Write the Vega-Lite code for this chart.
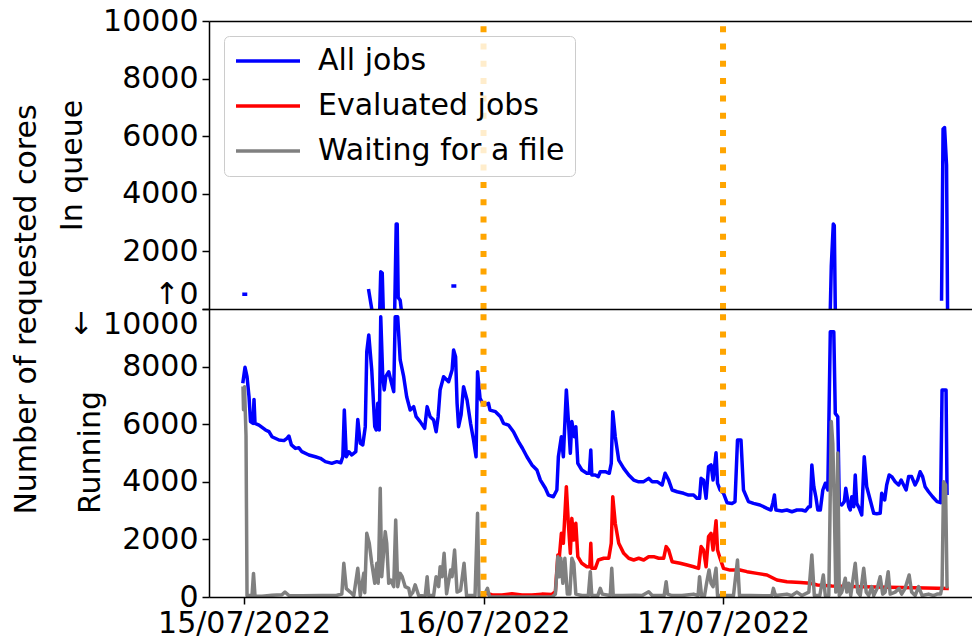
{
  "$schema": "https://vega.github.io/schema/vega-lite/v6.json",
  "padding": {"left": 10, "top": 6, "right": 0, "bottom": 0},
  "background": "white",
  "config": {
    "font": "DejaVu Sans",
    "view": {"stroke": null},
    "axis": {"labelFontSize": 30, "titleFontSize": 30, "labelColor": "black", "titleColor": "black", "titleFontWeight": "normal", "tickColor": "black", "domainColor": "black", "tickSize": 7, "tickWidth": 1.5, "domainWidth": 1.5, "grid": false, "labelFont": "DejaVu Sans", "titleFont": "DejaVu Sans"}
  },
  "datasets": {
    "days": [{"hours": 24}, {"hours": 48}],
    "queue": [
      {"hours": 0.0, "cores": 510, "series": "All jobs"},
      {"hours": 0.15, "cores": 510, "series": "All jobs"},
      {"hours": 0.5, "cores": null, "series": "All jobs"},
      {"hours": 12.5, "cores": 635, "series": "All jobs"},
      {"hours": 12.8, "cores": 0, "series": "All jobs"},
      {"hours": 13.0, "cores": null, "series": "All jobs"},
      {"hours": 13.6, "cores": 0, "series": "All jobs"},
      {"hours": 13.7, "cores": 1295, "series": "All jobs"},
      {"hours": 13.85, "cores": 1250, "series": "All jobs"},
      {"hours": 13.95, "cores": 0, "series": "All jobs"},
      {"hours": 14.5, "cores": null, "series": "All jobs"},
      {"hours": 15.1, "cores": 0, "series": "All jobs"},
      {"hours": 15.25, "cores": 2950, "series": "All jobs"},
      {"hours": 15.35, "cores": 2950, "series": "All jobs"},
      {"hours": 15.45, "cores": 400, "series": "All jobs"},
      {"hours": 15.65, "cores": 300, "series": "All jobs"},
      {"hours": 15.75, "cores": 0, "series": "All jobs"},
      {"hours": 16.5, "cores": null, "series": "All jobs"},
      {"hours": 20.95, "cores": 800, "series": "All jobs"},
      {"hours": 21.1, "cores": 800, "series": "All jobs"},
      {"hours": 21.5, "cores": null, "series": "All jobs"},
      {"hours": 58.75, "cores": 0, "series": "All jobs"},
      {"hours": 58.85, "cores": 1500, "series": "All jobs"},
      {"hours": 59.05, "cores": 2950, "series": "All jobs"},
      {"hours": 59.15, "cores": 2900, "series": "All jobs"},
      {"hours": 59.25, "cores": 0, "series": "All jobs"},
      {"hours": 60.0, "cores": null, "series": "All jobs"},
      {"hours": 69.9, "cores": 350, "series": "All jobs"},
      {"hours": 70.05, "cores": 6250, "series": "All jobs"},
      {"hours": 70.2, "cores": 6300, "series": "All jobs"},
      {"hours": 70.4, "cores": 5000, "series": "All jobs"},
      {"hours": 70.5, "cores": 0, "series": "All jobs"}
    ],
    "running": [
      {"hours": -0.1, "cores": 7480, "series": "All jobs"},
      {"hours": 0.1, "cores": 7975, "series": "All jobs"},
      {"hours": 0.3, "cores": 7650, "series": "All jobs"},
      {"hours": 0.5, "cores": 6955, "series": "All jobs"},
      {"hours": 0.65, "cores": 6090, "series": "All jobs"},
      {"hours": 0.9, "cores": 6030, "series": "All jobs"},
      {"hours": 1.0, "cores": 6860, "series": "All jobs"},
      {"hours": 1.1, "cores": 6030, "series": "All jobs"},
      {"hours": 1.5, "cores": 5970, "series": "All jobs"},
      {"hours": 2.15, "cores": 5800, "series": "All jobs"},
      {"hours": 2.5, "cores": 5740, "series": "All jobs"},
      {"hours": 2.8, "cores": 5565, "series": "All jobs"},
      {"hours": 3.5, "cores": 5450, "series": "All jobs"},
      {"hours": 4.0, "cores": 5430, "series": "All jobs"},
      {"hours": 4.3, "cores": 5510, "series": "All jobs"},
      {"hours": 4.5, "cores": 5590, "series": "All jobs"},
      {"hours": 4.75, "cores": 5280, "series": "All jobs"},
      {"hours": 5.15, "cores": 5160, "series": "All jobs"},
      {"hours": 5.5, "cores": 5180, "series": "All jobs"},
      {"hours": 5.8, "cores": 5045, "series": "All jobs"},
      {"hours": 6.5, "cores": 4930, "series": "All jobs"},
      {"hours": 7.15, "cores": 4870, "series": "All jobs"},
      {"hours": 7.65, "cores": 4815, "series": "All jobs"},
      {"hours": 8.15, "cores": 4700, "series": "All jobs"},
      {"hours": 8.8, "cores": 4640, "series": "All jobs"},
      {"hours": 9.3, "cores": 4700, "series": "All jobs"},
      {"hours": 9.7, "cores": 4660, "series": "All jobs"},
      {"hours": 9.9, "cores": 4870, "series": "All jobs"},
      {"hours": 10.05, "cores": 6490, "series": "All jobs"},
      {"hours": 10.25, "cores": 4870, "series": "All jobs"},
      {"hours": 10.5, "cores": 5045, "series": "All jobs"},
      {"hours": 10.8, "cores": 4930, "series": "All jobs"},
      {"hours": 11.2, "cores": 5045, "series": "All jobs"},
      {"hours": 11.4, "cores": 6165, "series": "All jobs"},
      {"hours": 11.65, "cores": 5335, "series": "All jobs"},
      {"hours": 11.9, "cores": 5280, "series": "All jobs"},
      {"hours": 12.15, "cores": 5915, "series": "All jobs"},
      {"hours": 12.3, "cores": 8520, "series": "All jobs"},
      {"hours": 12.5, "cores": 9100, "series": "All jobs"},
      {"hours": 12.8, "cores": 7880, "series": "All jobs"},
      {"hours": 13.1, "cores": 5915, "series": "All jobs"},
      {"hours": 13.25, "cores": 5800, "series": "All jobs"},
      {"hours": 13.4, "cores": 6725, "series": "All jobs"},
      {"hours": 13.55, "cores": 5800, "series": "All jobs"},
      {"hours": 13.7, "cores": 9730, "series": "All jobs"},
      {"hours": 13.9, "cores": 7650, "series": "All jobs"},
      {"hours": 14.05, "cores": 7190, "series": "All jobs"},
      {"hours": 14.2, "cores": 7650, "series": "All jobs"},
      {"hours": 14.5, "cores": 7820, "series": "All jobs"},
      {"hours": 14.7, "cores": 7535, "series": "All jobs"},
      {"hours": 15.0, "cores": 7130, "series": "All jobs"},
      {"hours": 15.15, "cores": 9730, "series": "All jobs"},
      {"hours": 15.4, "cores": 9730, "series": "All jobs"},
      {"hours": 15.65, "cores": 8230, "series": "All jobs"},
      {"hours": 16.0, "cores": 7650, "series": "All jobs"},
      {"hours": 16.3, "cores": 6955, "series": "All jobs"},
      {"hours": 16.65, "cores": 6490, "series": "All jobs"},
      {"hours": 17.0, "cores": 6610, "series": "All jobs"},
      {"hours": 17.25, "cores": 6260, "series": "All jobs"},
      {"hours": 17.65, "cores": 6090, "series": "All jobs"},
      {"hours": 18.1, "cores": 5855, "series": "All jobs"},
      {"hours": 18.35, "cores": 6610, "series": "All jobs"},
      {"hours": 18.65, "cores": 6260, "series": "All jobs"},
      {"hours": 19.0, "cores": 6145, "series": "All jobs"},
      {"hours": 19.25, "cores": 5740, "series": "All jobs"},
      {"hours": 19.45, "cores": 6260, "series": "All jobs"},
      {"hours": 19.65, "cores": 7190, "series": "All jobs"},
      {"hours": 20.0, "cores": 7650, "series": "All jobs"},
      {"hours": 20.5, "cores": 7475, "series": "All jobs"},
      {"hours": 20.85, "cores": 7880, "series": "All jobs"},
      {"hours": 21.0, "cores": 8575, "series": "All jobs"},
      {"hours": 21.2, "cores": 8345, "series": "All jobs"},
      {"hours": 21.35, "cores": 6725, "series": "All jobs"},
      {"hours": 21.5, "cores": 5915, "series": "All jobs"},
      {"hours": 21.75, "cores": 6320, "series": "All jobs"},
      {"hours": 22.0, "cores": 7300, "series": "All jobs"},
      {"hours": 22.35, "cores": 6840, "series": "All jobs"},
      {"hours": 22.7, "cores": 6030, "series": "All jobs"},
      {"hours": 23.0, "cores": 5450, "series": "All jobs"},
      {"hours": 23.25, "cores": 4870, "series": "All jobs"},
      {"hours": 23.4, "cores": 7820, "series": "All jobs"},
      {"hours": 23.65, "cores": 6900, "series": "All jobs"},
      {"hours": 24.0, "cores": 6665, "series": "All jobs"},
      {"hours": 24.5, "cores": 6725, "series": "All jobs"},
      {"hours": 24.65, "cores": 6490, "series": "All jobs"},
      {"hours": 25.2, "cores": 6435, "series": "All jobs"},
      {"hours": 25.7, "cores": 6260, "series": "All jobs"},
      {"hours": 26.0, "cores": 6030, "series": "All jobs"},
      {"hours": 26.5, "cores": 5970, "series": "All jobs"},
      {"hours": 27.0, "cores": 5740, "series": "All jobs"},
      {"hours": 27.5, "cores": 5395, "series": "All jobs"},
      {"hours": 27.9, "cores": 5165, "series": "All jobs"},
      {"hours": 28.35, "cores": 4870, "series": "All jobs"},
      {"hours": 28.85, "cores": 4585, "series": "All jobs"},
      {"hours": 29.35, "cores": 4410, "series": "All jobs"},
      {"hours": 29.7, "cores": 4060, "series": "All jobs"},
      {"hours": 30.2, "cores": 3775, "series": "All jobs"},
      {"hours": 30.5, "cores": 3540, "series": "All jobs"},
      {"hours": 31.0, "cores": 3480, "series": "All jobs"},
      {"hours": 31.35, "cores": 3715, "series": "All jobs"},
      {"hours": 31.5, "cores": 4870, "series": "All jobs"},
      {"hours": 31.8, "cores": 5565, "series": "All jobs"},
      {"hours": 32.0, "cores": 4870, "series": "All jobs"},
      {"hours": 32.3, "cores": 7190, "series": "All jobs"},
      {"hours": 32.5, "cores": 6145, "series": "All jobs"},
      {"hours": 32.7, "cores": 4990, "series": "All jobs"},
      {"hours": 32.85, "cores": 6090, "series": "All jobs"},
      {"hours": 33.1, "cores": 5565, "series": "All jobs"},
      {"hours": 33.25, "cores": 5915, "series": "All jobs"},
      {"hours": 33.45, "cores": 4640, "series": "All jobs"},
      {"hours": 33.85, "cores": 4410, "series": "All jobs"},
      {"hours": 34.35, "cores": 4295, "series": "All jobs"},
      {"hours": 34.6, "cores": 4295, "series": "All jobs"},
      {"hours": 34.75, "cores": 5105, "series": "All jobs"},
      {"hours": 34.85, "cores": 4235, "series": "All jobs"},
      {"hours": 35.2, "cores": 4235, "series": "All jobs"},
      {"hours": 35.5, "cores": 4180, "series": "All jobs"},
      {"hours": 35.7, "cores": 4350, "series": "All jobs"},
      {"hours": 36.2, "cores": 4350, "series": "All jobs"},
      {"hours": 36.6, "cores": 4295, "series": "All jobs"},
      {"hours": 36.8, "cores": 4640, "series": "All jobs"},
      {"hours": 36.95, "cores": 6435, "series": "All jobs"},
      {"hours": 37.2, "cores": 5565, "series": "All jobs"},
      {"hours": 37.55, "cores": 4755, "series": "All jobs"},
      {"hours": 38.05, "cores": 4465, "series": "All jobs"},
      {"hours": 38.55, "cores": 4235, "series": "All jobs"},
      {"hours": 39.05, "cores": 4060, "series": "All jobs"},
      {"hours": 39.55, "cores": 4000, "series": "All jobs"},
      {"hours": 40.05, "cores": 4005, "series": "All jobs"},
      {"hours": 40.55, "cores": 4120, "series": "All jobs"},
      {"hours": 40.9, "cores": 4005, "series": "All jobs"},
      {"hours": 41.4, "cores": 4005, "series": "All jobs"},
      {"hours": 41.9, "cores": 3890, "series": "All jobs"},
      {"hours": 42.2, "cores": 4295, "series": "All jobs"},
      {"hours": 42.55, "cores": 4060, "series": "All jobs"},
      {"hours": 42.9, "cores": 3715, "series": "All jobs"},
      {"hours": 43.4, "cores": 3655, "series": "All jobs"},
      {"hours": 44.05, "cores": 3600, "series": "All jobs"},
      {"hours": 44.55, "cores": 3540, "series": "All jobs"},
      {"hours": 45.05, "cores": 3540, "series": "All jobs"},
      {"hours": 45.4, "cores": 3425, "series": "All jobs"},
      {"hours": 45.65, "cores": 3425, "series": "All jobs"},
      {"hours": 45.8, "cores": 4120, "series": "All jobs"},
      {"hours": 46.05, "cores": 4060, "series": "All jobs"},
      {"hours": 46.3, "cores": 3425, "series": "All jobs"},
      {"hours": 46.55, "cores": 4525, "series": "All jobs"},
      {"hours": 46.8, "cores": 4585, "series": "All jobs"},
      {"hours": 47.0, "cores": 4060, "series": "All jobs"},
      {"hours": 47.3, "cores": 5010, "series": "All jobs"},
      {"hours": 47.45, "cores": 3950, "series": "All jobs"},
      {"hours": 47.7, "cores": 3715, "series": "All jobs"},
      {"hours": 48.05, "cores": 3600, "series": "All jobs"},
      {"hours": 48.4, "cores": 3275, "series": "All jobs"},
      {"hours": 48.9, "cores": 3250, "series": "All jobs"},
      {"hours": 49.2, "cores": 3310, "series": "All jobs"},
      {"hours": 49.45, "cores": 5450, "series": "All jobs"},
      {"hours": 49.8, "cores": 5450, "series": "All jobs"},
      {"hours": 50.05, "cores": 3715, "series": "All jobs"},
      {"hours": 50.55, "cores": 3310, "series": "All jobs"},
      {"hours": 51.05, "cores": 3250, "series": "All jobs"},
      {"hours": 51.7, "cores": 3195, "series": "All jobs"},
      {"hours": 52.4, "cores": 3080, "series": "All jobs"},
      {"hours": 52.8, "cores": 3020, "series": "All jobs"},
      {"hours": 53.0, "cores": 3275, "series": "All jobs"},
      {"hours": 53.15, "cores": 3540, "series": "All jobs"},
      {"hours": 53.3, "cores": 3020, "series": "All jobs"},
      {"hours": 53.9, "cores": 2985, "series": "All jobs"},
      {"hours": 54.4, "cores": 3020, "series": "All jobs"},
      {"hours": 54.9, "cores": 2960, "series": "All jobs"},
      {"hours": 55.4, "cores": 3020, "series": "All jobs"},
      {"hours": 55.9, "cores": 3020, "series": "All jobs"},
      {"hours": 56.25, "cores": 2985, "series": "All jobs"},
      {"hours": 56.6, "cores": 3135, "series": "All jobs"},
      {"hours": 56.75, "cores": 3135, "series": "All jobs"},
      {"hours": 56.9, "cores": 4585, "series": "All jobs"},
      {"hours": 57.1, "cores": 3830, "series": "All jobs"},
      {"hours": 57.3, "cores": 3480, "series": "All jobs"},
      {"hours": 57.5, "cores": 3020, "series": "All jobs"},
      {"hours": 57.75, "cores": 3020, "series": "All jobs"},
      {"hours": 58.0, "cores": 3715, "series": "All jobs"},
      {"hours": 58.25, "cores": 3950, "series": "All jobs"},
      {"hours": 58.5, "cores": 3715, "series": "All jobs"},
      {"hours": 58.75, "cores": 9210, "series": "All jobs"},
      {"hours": 59.1, "cores": 9210, "series": "All jobs"},
      {"hours": 59.25, "cores": 6375, "series": "All jobs"},
      {"hours": 59.5, "cores": 6260, "series": "All jobs"},
      {"hours": 59.65, "cores": 3250, "series": "All jobs"},
      {"hours": 59.9, "cores": 3195, "series": "All jobs"},
      {"hours": 60.15, "cores": 3310, "series": "All jobs"},
      {"hours": 60.3, "cores": 3775, "series": "All jobs"},
      {"hours": 60.6, "cores": 3135, "series": "All jobs"},
      {"hours": 60.75, "cores": 3020, "series": "All jobs"},
      {"hours": 60.9, "cores": 3480, "series": "All jobs"},
      {"hours": 61.1, "cores": 3135, "series": "All jobs"},
      {"hours": 61.25, "cores": 4235, "series": "All jobs"},
      {"hours": 61.4, "cores": 3250, "series": "All jobs"},
      {"hours": 61.65, "cores": 3080, "series": "All jobs"},
      {"hours": 61.9, "cores": 2850, "series": "All jobs"},
      {"hours": 62.15, "cores": 4870, "series": "All jobs"},
      {"hours": 62.4, "cores": 3830, "series": "All jobs"},
      {"hours": 62.75, "cores": 3370, "series": "All jobs"},
      {"hours": 63.1, "cores": 2905, "series": "All jobs"},
      {"hours": 63.4, "cores": 2890, "series": "All jobs"},
      {"hours": 63.75, "cores": 2905, "series": "All jobs"},
      {"hours": 63.9, "cores": 3600, "series": "All jobs"},
      {"hours": 64.2, "cores": 3370, "series": "All jobs"},
      {"hours": 64.4, "cores": 3890, "series": "All jobs"},
      {"hours": 64.65, "cores": 4235, "series": "All jobs"},
      {"hours": 64.9, "cores": 4180, "series": "All jobs"},
      {"hours": 65.25, "cores": 4005, "series": "All jobs"},
      {"hours": 65.6, "cores": 3890, "series": "All jobs"},
      {"hours": 65.85, "cores": 4060, "series": "All jobs"},
      {"hours": 66.1, "cores": 3890, "series": "All jobs"},
      {"hours": 66.35, "cores": 3715, "series": "All jobs"},
      {"hours": 66.6, "cores": 4180, "series": "All jobs"},
      {"hours": 66.9, "cores": 4180, "series": "All jobs"},
      {"hours": 67.25, "cores": 3890, "series": "All jobs"},
      {"hours": 67.5, "cores": 4060, "series": "All jobs"},
      {"hours": 67.75, "cores": 4350, "series": "All jobs"},
      {"hours": 68.0, "cores": 4180, "series": "All jobs"},
      {"hours": 68.25, "cores": 3830, "series": "All jobs"},
      {"hours": 68.6, "cores": 3655, "series": "All jobs"},
      {"hours": 69.0, "cores": 3480, "series": "All jobs"},
      {"hours": 69.45, "cores": 3310, "series": "All jobs"},
      {"hours": 69.8, "cores": 3275, "series": "All jobs"},
      {"hours": 69.95, "cores": 7190, "series": "All jobs"},
      {"hours": 70.35, "cores": 7190, "series": "All jobs"},
      {"hours": 70.45, "cores": 3600, "series": "All jobs"},
      {"hours": 24.15, "cores": 130, "series": "Evaluated jobs"},
      {"hours": 24.85, "cores": 80, "series": "Evaluated jobs"},
      {"hours": 25.85, "cores": 70, "series": "Evaluated jobs"},
      {"hours": 26.85, "cores": 110, "series": "Evaluated jobs"},
      {"hours": 27.85, "cores": 70, "series": "Evaluated jobs"},
      {"hours": 28.85, "cores": 70, "series": "Evaluated jobs"},
      {"hours": 29.85, "cores": 100, "series": "Evaluated jobs"},
      {"hours": 30.85, "cores": 90, "series": "Evaluated jobs"},
      {"hours": 31.2, "cores": 185, "series": "Evaluated jobs"},
      {"hours": 31.45, "cores": 1460, "series": "Evaluated jobs"},
      {"hours": 31.6, "cores": 1400, "series": "Evaluated jobs"},
      {"hours": 31.8, "cores": 2210, "series": "Evaluated jobs"},
      {"hours": 32.0, "cores": 1865, "series": "Evaluated jobs"},
      {"hours": 32.3, "cores": 3830, "series": "Evaluated jobs"},
      {"hours": 32.5, "cores": 2560, "series": "Evaluated jobs"},
      {"hours": 32.7, "cores": 1515, "series": "Evaluated jobs"},
      {"hours": 32.85, "cores": 2730, "series": "Evaluated jobs"},
      {"hours": 33.05, "cores": 1980, "series": "Evaluated jobs"},
      {"hours": 33.25, "cores": 2560, "series": "Evaluated jobs"},
      {"hours": 33.45, "cores": 1400, "series": "Evaluated jobs"},
      {"hours": 33.85, "cores": 1170, "series": "Evaluated jobs"},
      {"hours": 34.35, "cores": 1050, "series": "Evaluated jobs"},
      {"hours": 34.65, "cores": 1050, "series": "Evaluated jobs"},
      {"hours": 34.75, "cores": 1865, "series": "Evaluated jobs"},
      {"hours": 34.85, "cores": 995, "series": "Evaluated jobs"},
      {"hours": 35.2, "cores": 995, "series": "Evaluated jobs"},
      {"hours": 35.5, "cores": 1285, "series": "Evaluated jobs"},
      {"hours": 36.05, "cores": 1345, "series": "Evaluated jobs"},
      {"hours": 36.55, "cores": 1345, "series": "Evaluated jobs"},
      {"hours": 36.8, "cores": 1865, "series": "Evaluated jobs"},
      {"hours": 36.95, "cores": 3480, "series": "Evaluated jobs"},
      {"hours": 37.2, "cores": 2560, "series": "Evaluated jobs"},
      {"hours": 37.55, "cores": 1865, "series": "Evaluated jobs"},
      {"hours": 38.05, "cores": 1515, "series": "Evaluated jobs"},
      {"hours": 38.55, "cores": 1345, "series": "Evaluated jobs"},
      {"hours": 39.05, "cores": 1285, "series": "Evaluated jobs"},
      {"hours": 39.55, "cores": 1345, "series": "Evaluated jobs"},
      {"hours": 40.05, "cores": 1285, "series": "Evaluated jobs"},
      {"hours": 40.55, "cores": 1400, "series": "Evaluated jobs"},
      {"hours": 41.05, "cores": 1400, "series": "Evaluated jobs"},
      {"hours": 41.55, "cores": 1345, "series": "Evaluated jobs"},
      {"hours": 42.05, "cores": 1345, "series": "Evaluated jobs"},
      {"hours": 42.3, "cores": 1750, "series": "Evaluated jobs"},
      {"hours": 42.55, "cores": 1630, "series": "Evaluated jobs"},
      {"hours": 42.9, "cores": 1225, "series": "Evaluated jobs"},
      {"hours": 43.7, "cores": 1170, "series": "Evaluated jobs"},
      {"hours": 44.4, "cores": 1110, "series": "Evaluated jobs"},
      {"hours": 45.05, "cores": 1050, "series": "Evaluated jobs"},
      {"hours": 45.55, "cores": 995, "series": "Evaluated jobs"},
      {"hours": 45.8, "cores": 1750, "series": "Evaluated jobs"},
      {"hours": 46.05, "cores": 1630, "series": "Evaluated jobs"},
      {"hours": 46.3, "cores": 1050, "series": "Evaluated jobs"},
      {"hours": 46.55, "cores": 2095, "series": "Evaluated jobs"},
      {"hours": 46.8, "cores": 2210, "series": "Evaluated jobs"},
      {"hours": 47.0, "cores": 1630, "series": "Evaluated jobs"},
      {"hours": 47.3, "cores": 2650, "series": "Evaluated jobs"},
      {"hours": 47.45, "cores": 1630, "series": "Evaluated jobs"},
      {"hours": 47.7, "cores": 1345, "series": "Evaluated jobs"},
      {"hours": 48.05, "cores": 995, "series": "Evaluated jobs"},
      {"hours": 48.7, "cores": 935, "series": "Evaluated jobs"},
      {"hours": 49.7, "cores": 935, "series": "Evaluated jobs"},
      {"hours": 50.4, "cores": 880, "series": "Evaluated jobs"},
      {"hours": 51.4, "cores": 820, "series": "Evaluated jobs"},
      {"hours": 52.4, "cores": 765, "series": "Evaluated jobs"},
      {"hours": 53.05, "cores": 650, "series": "Evaluated jobs"},
      {"hours": 53.4, "cores": 590, "series": "Evaluated jobs"},
      {"hours": 54.4, "cores": 530, "series": "Evaluated jobs"},
      {"hours": 55.75, "cores": 500, "series": "Evaluated jobs"},
      {"hours": 56.75, "cores": 475, "series": "Evaluated jobs"},
      {"hours": 57.45, "cores": 415, "series": "Evaluated jobs"},
      {"hours": 58.9, "cores": 380, "series": "Evaluated jobs"},
      {"hours": 61.9, "cores": 360, "series": "Evaluated jobs"},
      {"hours": 65.9, "cores": 330, "series": "Evaluated jobs"},
      {"hours": 70.45, "cores": 300, "series": "Evaluated jobs"},
      {"hours": -0.1, "cores": 7250, "series": "Waiting for a file"},
      {"hours": -0.05, "cores": 6500, "series": "Waiting for a file"},
      {"hours": 0.05, "cores": 7300, "series": "Waiting for a file"},
      {"hours": 0.2, "cores": 5600, "series": "Waiting for a file"},
      {"hours": 0.3, "cores": 50, "series": "Waiting for a file"},
      {"hours": 0.8, "cores": 50, "series": "Waiting for a file"},
      {"hours": 0.95, "cores": 820, "series": "Waiting for a file"},
      {"hours": 1.1, "cores": 30, "series": "Waiting for a file"},
      {"hours": 1.8, "cores": 30, "series": "Waiting for a file"},
      {"hours": 2.8, "cores": 60, "series": "Waiting for a file"},
      {"hours": 3.8, "cores": 80, "series": "Waiting for a file"},
      {"hours": 4.1, "cores": 175, "series": "Waiting for a file"},
      {"hours": 4.5, "cores": 50, "series": "Waiting for a file"},
      {"hours": 5.8, "cores": 40, "series": "Waiting for a file"},
      {"hours": 7.8, "cores": 50, "series": "Waiting for a file"},
      {"hours": 9.3, "cores": 60, "series": "Waiting for a file"},
      {"hours": 9.8, "cores": 100, "series": "Waiting for a file"},
      {"hours": 10.0, "cores": 1170, "series": "Waiting for a file"},
      {"hours": 10.25, "cores": 290, "series": "Waiting for a file"},
      {"hours": 10.65, "cores": 170, "series": "Waiting for a file"},
      {"hours": 11.0, "cores": 50, "series": "Waiting for a file"},
      {"hours": 11.4, "cores": 995, "series": "Waiting for a file"},
      {"hours": 11.65, "cores": 50, "series": "Waiting for a file"},
      {"hours": 12.0, "cores": 820, "series": "Waiting for a file"},
      {"hours": 12.1, "cores": 150, "series": "Waiting for a file"},
      {"hours": 12.3, "cores": 2210, "series": "Waiting for a file"},
      {"hours": 12.55, "cores": 1865, "series": "Waiting for a file"},
      {"hours": 12.8, "cores": 1170, "series": "Waiting for a file"},
      {"hours": 13.1, "cores": 475, "series": "Waiting for a file"},
      {"hours": 13.3, "cores": 1170, "series": "Waiting for a file"},
      {"hours": 13.45, "cores": 480, "series": "Waiting for a file"},
      {"hours": 13.65, "cores": 3775, "series": "Waiting for a file"},
      {"hours": 13.8, "cores": 705, "series": "Waiting for a file"},
      {"hours": 14.15, "cores": 2270, "series": "Waiting for a file"},
      {"hours": 14.3, "cores": 1865, "series": "Waiting for a file"},
      {"hours": 14.5, "cores": 475, "series": "Waiting for a file"},
      {"hours": 14.7, "cores": 590, "series": "Waiting for a file"},
      {"hours": 15.0, "cores": 360, "series": "Waiting for a file"},
      {"hours": 15.2, "cores": 2675, "series": "Waiting for a file"},
      {"hours": 15.4, "cores": 360, "series": "Waiting for a file"},
      {"hours": 15.65, "cores": 820, "series": "Waiting for a file"},
      {"hours": 15.85, "cores": 705, "series": "Waiting for a file"},
      {"hours": 16.15, "cores": 360, "series": "Waiting for a file"},
      {"hours": 16.5, "cores": 300, "series": "Waiting for a file"},
      {"hours": 16.65, "cores": 50, "series": "Waiting for a file"},
      {"hours": 16.9, "cores": 150, "series": "Waiting for a file"},
      {"hours": 17.15, "cores": 420, "series": "Waiting for a file"},
      {"hours": 17.5, "cores": 50, "series": "Waiting for a file"},
      {"hours": 17.85, "cores": 40, "series": "Waiting for a file"},
      {"hours": 18.15, "cores": 30, "series": "Waiting for a file"},
      {"hours": 18.35, "cores": 705, "series": "Waiting for a file"},
      {"hours": 18.5, "cores": 50, "series": "Waiting for a file"},
      {"hours": 19.0, "cores": 50, "series": "Waiting for a file"},
      {"hours": 19.25, "cores": 705, "series": "Waiting for a file"},
      {"hours": 19.5, "cores": 360, "series": "Waiting for a file"},
      {"hours": 19.65, "cores": 1050, "series": "Waiting for a file"},
      {"hours": 19.85, "cores": 705, "series": "Waiting for a file"},
      {"hours": 20.05, "cores": 1515, "series": "Waiting for a file"},
      {"hours": 20.3, "cores": 110, "series": "Waiting for a file"},
      {"hours": 20.7, "cores": 935, "series": "Waiting for a file"},
      {"hours": 20.85, "cores": 705, "series": "Waiting for a file"},
      {"hours": 21.1, "cores": 1630, "series": "Waiting for a file"},
      {"hours": 21.35, "cores": 170, "series": "Waiting for a file"},
      {"hours": 21.7, "cores": 230, "series": "Waiting for a file"},
      {"hours": 22.05, "cores": 1170, "series": "Waiting for a file"},
      {"hours": 22.3, "cores": 50, "series": "Waiting for a file"},
      {"hours": 22.85, "cores": 50, "series": "Waiting for a file"},
      {"hours": 23.15, "cores": 50, "series": "Waiting for a file"},
      {"hours": 23.4, "cores": 2905, "series": "Waiting for a file"},
      {"hours": 23.55, "cores": 50, "series": "Waiting for a file"},
      {"hours": 24.05, "cores": 50, "series": "Waiting for a file"},
      {"hours": 24.4, "cores": 300, "series": "Waiting for a file"},
      {"hours": 24.6, "cores": 0, "series": "Waiting for a file"},
      {"hours": 27.5, "cores": 0, "series": "Waiting for a file"},
      {"hours": 30.85, "cores": 0, "series": "Waiting for a file"},
      {"hours": 31.2, "cores": 100, "series": "Waiting for a file"},
      {"hours": 31.45, "cores": 1400, "series": "Waiting for a file"},
      {"hours": 31.6, "cores": 705, "series": "Waiting for a file"},
      {"hours": 31.75, "cores": 1345, "series": "Waiting for a file"},
      {"hours": 31.95, "cores": 475, "series": "Waiting for a file"},
      {"hours": 32.15, "cores": 1345, "series": "Waiting for a file"},
      {"hours": 32.4, "cores": 100, "series": "Waiting for a file"},
      {"hours": 32.65, "cores": 100, "series": "Waiting for a file"},
      {"hours": 32.85, "cores": 1345, "series": "Waiting for a file"},
      {"hours": 33.05, "cores": 1170, "series": "Waiting for a file"},
      {"hours": 33.25, "cores": 100, "series": "Waiting for a file"},
      {"hours": 33.85, "cores": 50, "series": "Waiting for a file"},
      {"hours": 34.5, "cores": 50, "series": "Waiting for a file"},
      {"hours": 34.7, "cores": 880, "series": "Waiting for a file"},
      {"hours": 34.85, "cores": 50, "series": "Waiting for a file"},
      {"hours": 35.45, "cores": 50, "series": "Waiting for a file"},
      {"hours": 35.7, "cores": 300, "series": "Waiting for a file"},
      {"hours": 35.9, "cores": 100, "series": "Waiting for a file"},
      {"hours": 36.7, "cores": 50, "series": "Waiting for a file"},
      {"hours": 36.85, "cores": 995, "series": "Waiting for a file"},
      {"hours": 37.0, "cores": 50, "series": "Waiting for a file"},
      {"hours": 37.9, "cores": 50, "series": "Waiting for a file"},
      {"hours": 39.2, "cores": 60, "series": "Waiting for a file"},
      {"hours": 39.9, "cores": 50, "series": "Waiting for a file"},
      {"hours": 40.55, "cores": 180, "series": "Waiting for a file"},
      {"hours": 40.9, "cores": 50, "series": "Waiting for a file"},
      {"hours": 41.55, "cores": 50, "series": "Waiting for a file"},
      {"hours": 42.1, "cores": 50, "series": "Waiting for a file"},
      {"hours": 42.3, "cores": 530, "series": "Waiting for a file"},
      {"hours": 42.45, "cores": 100, "series": "Waiting for a file"},
      {"hours": 42.9, "cores": 50, "series": "Waiting for a file"},
      {"hours": 43.9, "cores": 50, "series": "Waiting for a file"},
      {"hours": 45.05, "cores": 100, "series": "Waiting for a file"},
      {"hours": 45.5, "cores": 50, "series": "Waiting for a file"},
      {"hours": 45.65, "cores": 705, "series": "Waiting for a file"},
      {"hours": 45.85, "cores": 50, "series": "Waiting for a file"},
      {"hours": 46.15, "cores": 50, "series": "Waiting for a file"},
      {"hours": 46.35, "cores": 475, "series": "Waiting for a file"},
      {"hours": 46.6, "cores": 935, "series": "Waiting for a file"},
      {"hours": 46.8, "cores": 475, "series": "Waiting for a file"},
      {"hours": 47.0, "cores": 360, "series": "Waiting for a file"},
      {"hours": 47.3, "cores": 995, "series": "Waiting for a file"},
      {"hours": 47.45, "cores": 50, "series": "Waiting for a file"},
      {"hours": 48.05, "cores": 50, "series": "Waiting for a file"},
      {"hours": 49.05, "cores": 50, "series": "Waiting for a file"},
      {"hours": 49.45, "cores": 1285, "series": "Waiting for a file"},
      {"hours": 49.65, "cores": 50, "series": "Waiting for a file"},
      {"hours": 50.75, "cores": 50, "series": "Waiting for a file"},
      {"hours": 52.05, "cores": 40, "series": "Waiting for a file"},
      {"hours": 52.9, "cores": 50, "series": "Waiting for a file"},
      {"hours": 53.05, "cores": 300, "series": "Waiting for a file"},
      {"hours": 53.25, "cores": 50, "series": "Waiting for a file"},
      {"hours": 54.4, "cores": 100, "series": "Waiting for a file"},
      {"hours": 54.9, "cores": 50, "series": "Waiting for a file"},
      {"hours": 55.4, "cores": 170, "series": "Waiting for a file"},
      {"hours": 55.9, "cores": 50, "series": "Waiting for a file"},
      {"hours": 56.6, "cores": 170, "series": "Waiting for a file"},
      {"hours": 56.9, "cores": 1460, "series": "Waiting for a file"},
      {"hours": 57.15, "cores": 50, "series": "Waiting for a file"},
      {"hours": 57.7, "cores": 50, "series": "Waiting for a file"},
      {"hours": 58.05, "cores": 765, "series": "Waiting for a file"},
      {"hours": 58.25, "cores": 50, "series": "Waiting for a file"},
      {"hours": 58.6, "cores": 50, "series": "Waiting for a file"},
      {"hours": 58.85, "cores": 6090, "series": "Waiting for a file"},
      {"hours": 59.0, "cores": 5335, "series": "Waiting for a file"},
      {"hours": 59.15, "cores": 3250, "series": "Waiting for a file"},
      {"hours": 59.3, "cores": 170, "series": "Waiting for a file"},
      {"hours": 59.5, "cores": 5000, "series": "Waiting for a file"},
      {"hours": 59.65, "cores": 50, "series": "Waiting for a file"},
      {"hours": 59.9, "cores": 170, "series": "Waiting for a file"},
      {"hours": 60.25, "cores": 650, "series": "Waiting for a file"},
      {"hours": 60.4, "cores": 170, "series": "Waiting for a file"},
      {"hours": 60.6, "cores": 475, "series": "Waiting for a file"},
      {"hours": 60.8, "cores": 50, "series": "Waiting for a file"},
      {"hours": 61.25, "cores": 1170, "series": "Waiting for a file"},
      {"hours": 61.5, "cores": 170, "series": "Waiting for a file"},
      {"hours": 61.75, "cores": 50, "series": "Waiting for a file"},
      {"hours": 62.1, "cores": 995, "series": "Waiting for a file"},
      {"hours": 62.35, "cores": 170, "series": "Waiting for a file"},
      {"hours": 62.6, "cores": 50, "series": "Waiting for a file"},
      {"hours": 62.9, "cores": 360, "series": "Waiting for a file"},
      {"hours": 63.1, "cores": 50, "series": "Waiting for a file"},
      {"hours": 63.45, "cores": 300, "series": "Waiting for a file"},
      {"hours": 63.75, "cores": 705, "series": "Waiting for a file"},
      {"hours": 64.0, "cores": 100, "series": "Waiting for a file"},
      {"hours": 64.25, "cores": 170, "series": "Waiting for a file"},
      {"hours": 64.55, "cores": 880, "series": "Waiting for a file"},
      {"hours": 64.75, "cores": 100, "series": "Waiting for a file"},
      {"hours": 65.25, "cores": 170, "series": "Waiting for a file"},
      {"hours": 65.65, "cores": 300, "series": "Waiting for a file"},
      {"hours": 65.9, "cores": 100, "series": "Waiting for a file"},
      {"hours": 66.25, "cores": 300, "series": "Waiting for a file"},
      {"hours": 66.65, "cores": 765, "series": "Waiting for a file"},
      {"hours": 66.9, "cores": 170, "series": "Waiting for a file"},
      {"hours": 67.25, "cores": 50, "series": "Waiting for a file"},
      {"hours": 67.6, "cores": 360, "series": "Waiting for a file"},
      {"hours": 67.95, "cores": 50, "series": "Waiting for a file"},
      {"hours": 68.6, "cores": 100, "series": "Waiting for a file"},
      {"hours": 69.1, "cores": 50, "series": "Waiting for a file"},
      {"hours": 69.45, "cores": 100, "series": "Waiting for a file"},
      {"hours": 69.8, "cores": 100, "series": "Waiting for a file"},
      {"hours": 69.95, "cores": 360, "series": "Waiting for a file"},
      {"hours": 70.1, "cores": 4005, "series": "Waiting for a file"},
      {"hours": 70.3, "cores": 3890, "series": "Waiting for a file"},
      {"hours": 70.45, "cores": 360, "series": "Waiting for a file"}
    ]
  },
  "spacing": 0,
  "bounds": "flush",
  "resolve": {"scale": {"color": "independent"}, "legend": {"color": "independent"}},
  "vconcat": [
    {
      "width": 765,
      "height": 288,
      "resolve": {"axis": {"x": "independent"}},
      "layer": [
        {
          "data": {"name": "queue"},
          "mark": {"type": "line", "strokeWidth": 3.5, "strokeJoin": "round", "strokeCap": "square", "clip": true},
          "encoding": {
            "x": {"field": "hours", "type": "quantitative", "scale": {"domain": [-3.51, 73.15], "nice": false, "zero": false},
              "axis": {"orient": "top", "labels": false, "ticks": false, "domain": true, "title": null, "zindex": 1}},
            "y": {"field": "cores", "type": "quantitative", "scale": {"domain": [0, 10000], "nice": false},
              "axis": {"title": "In queue", "orient": "left", "values": [0, 2000, 4000, 6000, 8000, 10000], "format": "d",
                "labelExpr": "datum.value == 0 ? '↑0' : datum.label",
                "labelBaseline": {"condition": {"test": "datum.value == 0", "value": "bottom"}, "value": "middle"},
                "labelPadding": 4, "titleX": -137, "titleY": 144, "titleAngle": 270, "titleAlign": "center", "titleBaseline": "middle"}},
            "color": {"field": "series", "type": "nominal",
              "scale": {"domain": ["All jobs", "Evaluated jobs", "Waiting for a file"], "range": ["#0000ff", "#ff0000", "#808080"]},
              "legend": {"orient": "none", "legendX": 15, "legendY": 15, "title": null, "symbolType": "stroke", "symbolSize": 4096, "symbolStrokeWidth": 3.5, "clipHeight": 30, "labelFontSize": 30, "labelFont": "DejaVu Sans", "labelColor": "black", "labelOffset": 16, "rowPadding": 15, "padding": 10, "fillColor": "rgba(255,255,255,0.8)", "strokeColor": "#cccccc", "cornerRadius": 5, "labelLimit": 500}}
          }
        },
        {
          "data": {"name": "days"},
          "mark": {"type": "rule", "color": "#ffa500", "strokeWidth": 6, "strokeDash": [6, 11.3], "strokeDashOffset": 12.1, "strokeCap": "butt"},
          "encoding": {
            "x": {"field": "hours", "type": "quantitative",
              "axis": {"orient": "bottom", "labels": false, "ticks": false, "domain": true, "title": null, "zindex": 1}}
          }
        }
      ]
    },
    {
      "width": 765,
      "height": 288,
      "resolve": {"axis": {"y": "independent", "x": "independent"}},
      "layer": [
        {
          "data": {"name": "running"},
          "mark": {"type": "line", "strokeWidth": 3.5, "strokeJoin": "round", "strokeCap": "square", "clip": true},
          "encoding": {
            "x": {"field": "hours", "type": "quantitative", "scale": {"domain": [-3.51, 73.15], "nice": false, "zero": false},
              "axis": {"title": null, "orient": "bottom", "values": [0, 24, 48], "labelExpr": "datum.value == 0 ? '15/07/2022' : datum.value == 24 ? '16/07/2022' : '17/07/2022'", "labelPadding": 4, "labelFlush": false, "labelOverlap": false, "zindex": 1}},
            "y": {"field": "cores", "type": "quantitative", "scale": {"domain": [0, 10000], "nice": false},
              "axis": {"title": "Running", "orient": "left", "values": [0, 2000, 4000, 6000, 8000, 10000], "format": "d",
                "labelExpr": "datum.value == 10000 ? '↓ 10000' : datum.label",
                "labelBaseline": {"condition": {"test": "datum.value == 10000", "value": "top"}, "value": "middle"},
                "labelPadding": 4, "titleX": -119, "titleY": 143, "titleAngle": 270, "titleAlign": "center", "titleBaseline": "middle"}},
            "color": {"field": "series", "type": "nominal",
              "scale": {"domain": ["All jobs", "Evaluated jobs", "Waiting for a file"], "range": ["#0000ff", "#ff0000", "#808080"]},
              "legend": null}
          }
        },
        {
          "data": {"name": "days"},
          "mark": {"type": "rule", "color": "#ffa500", "strokeWidth": 6, "strokeDash": [6, 11.3], "strokeCap": "butt"},
          "encoding": {
            "x": {"field": "hours", "type": "quantitative", "axis": null},
            "y": {"datum": 0, "type": "quantitative",
              "axis": {"orient": "left", "title": "Number of requested cores", "labels": false, "ticks": false, "domain": false, "titleX": -183, "titleY": 0, "titleAngle": 270, "titleAlign": "center", "titleBaseline": "middle"}},
            "y2": {"datum": 10000}
          }
        }
      ]
    }
  ]
}
